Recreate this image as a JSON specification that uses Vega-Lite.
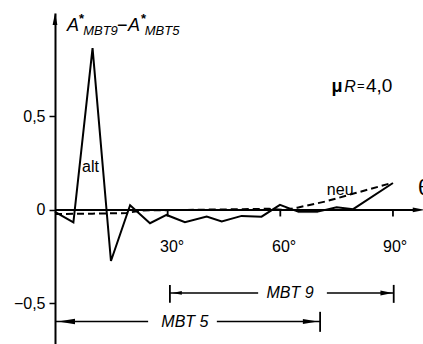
{
  "$schema": "https://vega.github.io/schema/vega-lite/v6.json",
  "width": 368,
  "height": 331,
  "autosize": "none",
  "padding": {"left": 55, "top": 13, "right": 0, "bottom": 0},
  "background": "white",
  "config": {"view": {"stroke": null}, "font": "Liberation Sans", "text": {"color": "black"}},
  "datasets": {
    "alt": [
      {"x": 0, "y": -0.01}, {"x": 4.9, "y": -0.066}, {"x": 10, "y": 0.865}, {"x": 14.9, "y": -0.273},
      {"x": 20, "y": 0.025}, {"x": 25.3, "y": -0.071}, {"x": 29.7, "y": -0.027}, {"x": 34.6, "y": -0.066},
      {"x": 40.4, "y": -0.036}, {"x": 44.4, "y": -0.062}, {"x": 49.7, "y": -0.032}, {"x": 55, "y": -0.036},
      {"x": 59.9, "y": 0.027}, {"x": 64.7, "y": -0.009}, {"x": 70, "y": -0.009}, {"x": 75, "y": 0.014},
      {"x": 79.4, "y": 0.004}, {"x": 90, "y": 0.144}
    ],
    "neu": [
      {"x": 0, "y": -0.022}, {"x": 10, "y": -0.02}, {"x": 19, "y": -0.017}, {"x": 23, "y": -0.003},
      {"x": 35, "y": 0.0}, {"x": 50, "y": 0.004}, {"x": 57, "y": 0.006}, {"x": 61, "y": 0.0},
      {"x": 64.5, "y": 0.012}, {"x": 72, "y": 0.045}, {"x": 80, "y": 0.09}, {"x": 89.5, "y": 0.143}
    ],
    "shade": [{"x": 64.7, "x2": 70, "y": -0.004, "y2": -0.017}],
    "xaxis": [{"x": 0, "x2": 96.5, "y": 0}],
    "ranges": [
      {"x": 30.6, "x2": 54.1, "y": -0.444}, {"x": 72.4, "x2": 90.2, "y": -0.444},
      {"x": 0, "x2": 24.8, "y": -0.597}, {"x": 43.1, "x2": 70.6, "y": -0.597}
    ],
    "vrules": [
      {"x": 30, "y": 0, "y2": -0.035}, {"x": 60, "y": 0, "y2": -0.035}, {"x": 90, "y": 0, "y2": -0.035},
      {"x": 30.6, "y": -0.401, "y2": -0.497}, {"x": 90.2, "y": -0.401, "y2": -0.497},
      {"x": 70.6, "y": -0.545, "y2": -0.652}
    ],
    "arrowRightBig": [{"x": 68.0, "y": -0.597}],
    "arrowLeftBig": [{"x": 3.06, "y": -0.597}],
    "arrowRightMid": [{"x": 88.3, "y": -0.444}, {"x": 96.9, "y": 0}],
    "arrowLeftSmall": [{"x": 32.5, "y": -0.444}],
    "arrowUp": [{"x": 0, "y": 1.021}],
    "bigItalic": [{"t": "A", "x": 3.2, "y": 0.957}, {"t": "A", "x": 19.44, "y": 0.957}],
    "subItalic": [{"t": "MBT9", "x": 7.5, "y": 0.936}, {"t": "MBT5", "x": 23.9, "y": 0.936}],
    "stars": [{"t": "*", "x": 6.4, "y": 1.0}, {"t": "*", "x": 22.9, "y": 1.0}],
    "minus": [{"t": "−", "x": 16.5, "y": 0.957}],
    "mu": [{"t": "μ", "x": 73.6, "y": 0.631}],
    "rItalic": [{"t": "R", "x": 77.0, "y": 0.631}],
    "eq": [{"t": "=", "x": 80.4, "y": 0.641}],
    "val": [{"t": "4,0", "x": 82.8, "y": 0.631}],
    "xlabels": [{"t": "30°", "x": 27.96, "y": -0.225}, {"t": "60°", "x": 57.8, "y": -0.225}, {"t": "90°", "x": 87.35, "y": -0.225}],
    "curveLabels": [{"t": "alt", "x": 7.2, "y": 0.203}, {"t": "neu", "x": 72.4, "y": 0.08}],
    "rangeLabels": [{"t": "MBT 9", "x": 62.6, "y": -0.444}, {"t": "MBT 5", "x": 34.6, "y": -0.597}],
    "theta": [{"t": "θ", "x": 96.7, "y": 0.08}]
  },
  "encoding": {
    "x": {"field": "x", "type": "quantitative", "scale": {"domain": [0, 98], "nice": false, "zero": false}, "axis": null},
    "y": {
      "field": "y", "type": "quantitative",
      "scale": {"domain": [-0.717, 1.053], "nice": false, "zero": false},
      "axis": {
        "values": [-0.5, 0, 0.5], "title": null, "grid": false,
        "domainColor": "black", "domainWidth": 2, "tickColor": "black", "tickWidth": 1.5, "tickSize": 6,
        "labelFontSize": 16, "labelColor": "black", "labelPadding": 4, "labelFont": "Liberation Sans",
        "labelExpr": "datum.value == 0 ? '0' : replace(format(datum.value, '.1f'), '.', ',')"
      }
    }
  },
  "layer": [
    {"data": {"name": "shade"}, "mark": {"type": "rect", "color": "#999999"}, "encoding": {"x2": {"field": "x2"}, "y2": {"field": "y2"}}},
    {"data": {"name": "xaxis"}, "mark": {"type": "rule", "color": "black", "strokeWidth": 2}, "encoding": {"x2": {"field": "x2"}}},
    {"data": {"name": "ranges"}, "mark": {"type": "rule", "color": "black", "strokeWidth": 1.5}, "encoding": {"x2": {"field": "x2"}}},
    {"data": {"name": "vrules"}, "mark": {"type": "rule", "color": "black", "strokeWidth": 1.8}, "encoding": {"y2": {"field": "y2"}}},
    {"data": {"name": "neu"}, "mark": {"type": "line", "color": "black", "strokeWidth": 2, "strokeDash": [7, 4]}, "encoding": {}},
    {"data": {"name": "alt"}, "mark": {"type": "line", "color": "black", "strokeWidth": 2}, "encoding": {}},
    {"data": {"name": "arrowRightBig"}, "mark": {"type": "point", "filled": true, "color": "black", "opacity": 1, "shape": "M1,0L-1,-0.33L-1,0.33Z", "size": 225}},
    {"data": {"name": "arrowLeftBig"}, "mark": {"type": "point", "filled": true, "color": "black", "opacity": 1, "shape": "M-1,0L1,-0.33L1,0.33Z", "size": 289}},
    {"data": {"name": "arrowRightMid"}, "mark": {"type": "point", "filled": true, "color": "black", "opacity": 1, "shape": "M1,0L-1,-0.4L-1,0.4Z", "size": 150}},
    {"data": {"name": "arrowLeftSmall"}, "mark": {"type": "point", "filled": true, "color": "black", "opacity": 1, "shape": "M-1,0L1,-0.4L1,0.4Z", "size": 90}},
    {"data": {"name": "arrowUp"}, "mark": {"type": "point", "filled": true, "color": "black", "opacity": 1, "shape": "M0,-1L-0.4,1L0.4,1Z", "size": 144}},
    {"data": {"name": "bigItalic"}, "mark": {"type": "text", "fontSize": 18, "fontStyle": "italic", "align": "left", "baseline": "alphabetic"}, "encoding": {"text": {"field": "t"}}},
    {"data": {"name": "subItalic"}, "mark": {"type": "text", "fontSize": 13, "fontStyle": "italic", "align": "left", "baseline": "alphabetic"}, "encoding": {"text": {"field": "t"}}},
    {"data": {"name": "stars"}, "mark": {"type": "text", "fontSize": 13, "fontWeight": "bold", "align": "left", "baseline": "alphabetic"}, "encoding": {"text": {"field": "t"}}},
    {"data": {"name": "minus"}, "mark": {"type": "text", "fontSize": 18, "align": "left", "baseline": "alphabetic"}, "encoding": {"text": {"field": "t"}}},
    {"data": {"name": "mu"}, "mark": {"type": "text", "fontSize": 18, "fontWeight": "bold", "align": "left", "baseline": "alphabetic"}, "encoding": {"text": {"field": "t"}}},
    {"data": {"name": "rItalic"}, "mark": {"type": "text", "fontSize": 16, "fontStyle": "italic", "align": "left", "baseline": "alphabetic"}, "encoding": {"text": {"field": "t"}}},
    {"data": {"name": "eq"}, "mark": {"type": "text", "fontSize": 13, "align": "left", "baseline": "alphabetic"}, "encoding": {"text": {"field": "t"}}},
    {"data": {"name": "val"}, "mark": {"type": "text", "fontSize": 19, "align": "left", "baseline": "alphabetic"}, "encoding": {"text": {"field": "t"}}},
    {"data": {"name": "xlabels"}, "mark": {"type": "text", "fontSize": 16, "align": "left", "baseline": "alphabetic"}, "encoding": {"text": {"field": "t"}}},
    {"data": {"name": "curveLabels"}, "mark": {"type": "text", "fontSize": 16, "align": "left", "baseline": "alphabetic"}, "encoding": {"text": {"field": "t"}}},
    {"data": {"name": "rangeLabels"}, "mark": {"type": "text", "fontSize": 16, "fontStyle": "italic", "align": "center", "baseline": "middle"}, "encoding": {"text": {"field": "t"}}},
    {"data": {"name": "theta"}, "mark": {"type": "text", "fontSize": 22, "align": "left", "baseline": "alphabetic"}, "encoding": {"text": {"field": "t"}}}
  ]
}
